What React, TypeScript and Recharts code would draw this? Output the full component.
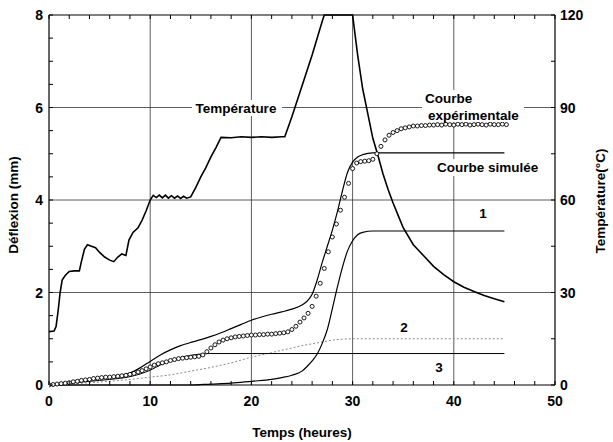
import {
  ComposedChart,
  Line,
  Scatter,
  XAxis,
  YAxis,
  ReferenceLine,
} from 'recharts'

// temperature (°C, right axis)
const tempTimes = [
  0, 0.5, 0.7, 0.9, 1.1, 1.3, 1.6, 2.0, 2.5, 3.0, 3.2, 3.5, 3.8, 4.2, 4.6, 5.0, 5.5, 6.0, 6.4, 6.8,
  7.2, 7.6, 7.9, 8.3, 8.8, 9.2, 9.6, 10.0, 10.3, 10.6, 10.9, 11.2, 11.5, 11.8, 12.1, 12.4, 12.7,
  13.0, 13.3, 13.6, 14.0, 14.5, 15.0, 15.5, 16.0, 16.5, 17.0, 18, 19, 20, 21, 22, 23, 23.3, 24, 25,
  26, 27, 27.2, 28, 29, 30, 30.5, 31, 31.5, 32, 32.5, 33, 33.5, 34, 34.5, 35, 36, 37, 38, 39, 40,
  41, 42, 43, 44, 45,
]
const tempValues = [
  17.3, 17.5, 19, 24, 30, 34, 35.5, 36.8, 37, 37, 40, 44, 45.5, 45, 44.5, 43, 41.5, 40.5, 40, 41.5,
  42.5, 42, 47, 49.5, 51, 53.5, 56.5, 60, 61.5, 60.8, 61.6, 60.7, 61.6, 60.6, 61.4, 60.6, 61.3,
  60.5, 61.2, 60.6, 61, 64, 67.5, 70.5, 74, 77, 80.3, 80.2, 80.5, 80.3, 80.5, 80.3, 80.5, 80.5, 87, 97,
  107, 118, 120, 120, 120, 120, 107, 96, 88, 80, 74.5, 68.5, 63.5, 59, 55, 51, 45.5, 42, 38.5, 35.8, 33.5,
  31.7, 30.3, 29, 28, 27,
]

// simulated deflection (mm)
const simTimes = [
  0, 1, 2, 3, 4, 5, 6, 7, 8, 9, 10, 11, 12, 13, 14, 15, 16, 17, 18, 19, 20, 21, 22, 23, 24, 25, 25.5,
  26, 26.5, 27, 27.5, 28, 28.5, 29, 29.5, 30, 30.5, 31, 32, 45,
]
const simValues = [
  0, 0.02, 0.05, 0.08, 0.11, 0.14, 0.17, 0.21, 0.26, 0.37, 0.51, 0.65, 0.76, 0.85, 0.92, 0.98, 1.05,
  1.13, 1.22, 1.31, 1.4, 1.47, 1.53, 1.58, 1.64, 1.73, 1.81, 1.96, 2.27, 2.65, 3.0, 3.35, 3.75, 4.2,
  4.6, 4.82, 4.93, 4.98, 5.02, 5.02,
]

// experimental deflection (mm), one point every 0.4 h
const expStep = 0.4
const expValues = [
  0.0, 0.01, 0.02, 0.03, 0.04, 0.05, 0.07, 0.08, 0.1, 0.11, 0.12, 0.14, 0.15, 0.16, 0.17, 0.17,
  0.18, 0.19, 0.2, 0.21, 0.23, 0.25, 0.28, 0.31, 0.35, 0.39, 0.43, 0.46, 0.48, 0.5, 0.53, 0.55,
  0.57, 0.58, 0.59, 0.6, 0.61, 0.62, 0.65, 0.72, 0.8, 0.87, 0.93, 0.97, 1.0, 1.02, 1.04, 1.05,
  1.06, 1.07, 1.08, 1.08, 1.09, 1.09, 1.1, 1.1, 1.11, 1.12, 1.13, 1.15, 1.2, 1.27, 1.36, 1.45,
  1.55, 1.7, 1.92, 2.2, 2.52, 2.88, 3.2, 3.48, 3.78, 4.06, 4.36, 4.68, 4.8, 4.83, 4.84, 4.85,
  4.88, 5.0, 5.16, 5.3, 5.4, 5.46, 5.5, 5.54, 5.56, 5.58, 5.6, 5.6, 5.61, 5.61, 5.62, 5.62, 5.63,
  5.62, 5.64, 5.63, 5.62, 5.64, 5.63, 5.64, 5.62, 5.63, 5.64, 5.63, 5.62, 5.64, 5.63, 5.63, 5.64,
  5.63,
]

// component 1 (solid)
const c1Times = [0, 14, 16, 18, 20, 22, 23, 24, 25, 25.5, 26, 26.5, 27, 27.5, 28, 28.5, 29, 29.5, 30, 30.5, 31, 32, 45]
const c1Values = [0, 0, 0.02, 0.04, 0.08, 0.12, 0.16, 0.21, 0.3, 0.4, 0.52, 0.67, 0.9, 1.2, 1.65, 2.12, 2.55, 2.9, 3.12, 3.25, 3.3, 3.33, 3.33]

// component 2 (dotted)
const c2Times = [0, 2, 4, 6, 8, 10, 12, 14, 16, 18, 20, 22, 24, 25, 26, 27, 28, 29, 30, 45]
const c2Values = [0, 0.02, 0.05, 0.08, 0.12, 0.17, 0.22, 0.3, 0.38, 0.48, 0.6, 0.7, 0.8, 0.85, 0.89, 0.93, 0.97, 0.99, 1.0, 1.0]

// component 3 (solid)
const c3Times = [0, 2, 4, 6, 8, 10, 11, 12, 13, 14, 15, 16, 45]
const c3Values = [0, 0.04, 0.08, 0.12, 0.18, 0.32, 0.43, 0.52, 0.59, 0.64, 0.67, 0.68, 0.68]

const xTicks = [0, 2, 4, 6, 8, 10, 12, 14, 16, 18, 20, 22, 24, 26, 28, 30, 32, 34, 36, 38, 40, 42, 44, 46, 48, 50]
const leftTicks = [0, 0.5, 1, 1.5, 2, 2.5, 3, 3.5, 4, 4.5, 5, 5.5, 6, 6.5, 7, 7.5, 8]
const rightTicks = [0, 15, 30, 45, 60, 75, 90, 105, 120]
const xGrid = [10, 20, 30, 40]
const yGrid = [2, 4, 6]

const toPoints = (ts: number[], vs: number[]) => ts.map((t, i) => ({ t, v: vs[i] }))
const tempData = toPoints(tempTimes, tempValues)
const simData = toPoints(simTimes, simValues)
const expData = expValues.map((v, i) => ({ t: +(i * expStep).toFixed(1), v }))
const c1Data = toPoints(c1Times, c1Values)
const c2Data = toPoints(c2Times, c2Values)
const c3Data = toPoints(c3Times, c3Values)

const W = 613
const H = 442
const LEFT = 49
const RIGHT = 555
const TOP = 15
const BOTTOM = 385
const FONT = '"Liberation Sans", Arial, sans-serif'

const LeftTick = ({ x, y, payload }: any) => {
  const major = payload.value % 2 === 0
  return (
    <g>
      <line x1={LEFT} x2={LEFT + 4} y1={y} y2={y} stroke="#000" strokeWidth={1} />
      {major && (
        <text x={x} y={y} dy="0.36em" textAnchor="end" fontSize={14} fontWeight="bold" fontFamily={FONT} fill="#000">
          {payload.value}
        </text>
      )}
    </g>
  )
}

const RightTick = ({ x, y, payload }: any) => {
  const major = payload.value % 30 === 0
  return (
    <g>
      <line x1={RIGHT - 4} x2={RIGHT} y1={y} y2={y} stroke="#000" strokeWidth={1} />
      {major && (
        <text x={x} y={y} dy="0.36em" textAnchor="start" fontSize={14} fontWeight="bold" fontFamily={FONT} fill="#000">
          {payload.value}
        </text>
      )}
    </g>
  )
}

const BottomTick = ({ x, y, payload }: any) => {
  const major = payload.value % 10 === 0
  return (
    <g>
      <line x1={x} x2={x} y1={BOTTOM - 4} y2={BOTTOM} stroke="#000" strokeWidth={1} />
      <line x1={x} x2={x} y1={TOP} y2={TOP + 4} stroke="#000" strokeWidth={1} />
      {major && (
        <text x={x} y={y} dy="0.95em" textAnchor="middle" fontSize={14} fontWeight="bold" fontFamily={FONT} fill="#000">
          {payload.value}
        </text>
      )}
    </g>
  )
}

const Circle = (p: any) => (
  <circle cx={p.cx} cy={p.cy} r={2} fill="#fff" stroke="#000" strokeWidth={0.9} />
)

const txt = { fontFamily: FONT, fontWeight: 'bold' as const, fontSize: 13.5, fill: '#000' }

export default function App() {
  return (
    <div style={{ position: 'absolute', left: 0, top: 0, width: W, height: H, background: '#fff' }}>
      <ComposedChart width={W} height={H} margin={{ top: TOP, right: 0, bottom: 0, left: 0 }}>
        <XAxis
          xAxisId="x"
          dataKey="t"
          type="number"
          domain={[0, 50]}
          ticks={xTicks}
          interval={0}
          height={H - BOTTOM}
          tickSize={0}
          tickMargin={8}
          tick={<BottomTick />}
          axisLine={{ stroke: '#000', strokeWidth: 1.2 }}
          allowDataOverflow
        />
        <YAxis
          yAxisId="left"
          type="number"
          domain={[0, 8]}
          ticks={leftTicks}
          interval={0}
          width={LEFT}
          tickSize={0}
          tickMargin={6}
          tick={<LeftTick />}
          axisLine={{ stroke: '#000', strokeWidth: 1.2 }}
        />
        <YAxis
          yAxisId="right"
          orientation="right"
          type="number"
          domain={[0, 120]}
          ticks={rightTicks}
          interval={0}
          width={W - RIGHT}
          tickSize={0}
          tickMargin={5}
          tick={<RightTick />}
          axisLine={{ stroke: '#000', strokeWidth: 1.2 }}
        />
        {xGrid.map((g) => (
          <ReferenceLine key={'x' + g} xAxisId="x" yAxisId="left" x={g} stroke="#333" strokeWidth={0.8} />
        ))}
        {yGrid.map((g) => (
          <ReferenceLine key={'y' + g} xAxisId="x" yAxisId="left" y={g} stroke="#333" strokeWidth={0.8} />
        ))}
        <ReferenceLine xAxisId="x" yAxisId="left" y={8} stroke="#000" strokeWidth={1.2} />

        <Line xAxisId="x" yAxisId="left" data={c2Data} dataKey="v" type="monotone" stroke="#8a8a8a" strokeWidth={1} strokeDasharray="2 2" dot={false} isAnimationActive={false} />
        <Line xAxisId="x" yAxisId="left" data={c3Data} dataKey="v" type="monotone" stroke="#000" strokeWidth={1} dot={false} isAnimationActive={false} />
        <Line xAxisId="x" yAxisId="left" data={c1Data} dataKey="v" type="monotone" stroke="#000" strokeWidth={1.2} dot={false} isAnimationActive={false} />
        <Line xAxisId="x" yAxisId="left" data={simData} dataKey="v" type="monotone" stroke="#000" strokeWidth={1.2} dot={false} isAnimationActive={false} />
        <Line xAxisId="x" yAxisId="right" data={tempData} dataKey="v" type="linear" stroke="#000" strokeWidth={1.6} dot={false} isAnimationActive={false} />
        <Scatter xAxisId="x" yAxisId="left" data={expData} dataKey="v" shape={<Circle />} isAnimationActive={false} />
      </ComposedChart>

      <svg width={W} height={H} style={{ position: 'absolute', left: 0, top: 0, pointerEvents: 'none' }}>
        <rect x={192} y={100} width={90} height={16} fill="#fff" />
        <text x={236} y={113} textAnchor="middle" {...txt}>Température</text>

        <rect x={422} y={90} width={102} height={32} fill="#fff" />
        <text x={425} y={103} {...txt}>Courbe</text>
        <text x={428} y={120} {...txt}>expérimentale</text>

        <rect x={434} y={159} width={110} height={17} fill="#fff" />
        <text x={437} y={172} {...txt}>Courbe simulée</text>

        <text x={483} y={218} textAnchor="middle" {...txt}>1</text>
        <text x={404} y={332} textAnchor="middle" {...txt}>2</text>
        <text x={439} y={372} textAnchor="middle" {...txt}>3</text>

        <text x={302} y={437} textAnchor="middle" {...txt}>Temps (heures)</text>
        <text x={0} y={0} transform="translate(18,205) rotate(-90)" textAnchor="middle" {...txt}>Déflexion (mm)</text>
        <text x={0} y={0} transform="translate(605,201) rotate(-90)" textAnchor="middle" {...txt}>Température(°C)</text>
      </svg>
    </div>
  )
}
